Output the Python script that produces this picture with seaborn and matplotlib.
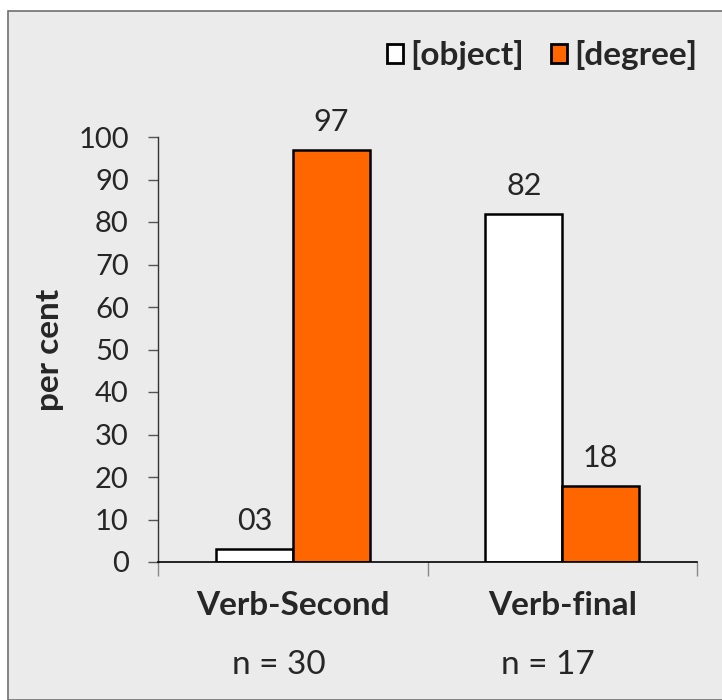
import pandas as pd
import matplotlib.pyplot as plt
import matplotlib.transforms as mtransforms
from matplotlib.patches import Rectangle
import seaborn as sns

# Data
categories = ["Verb-Second", "Verb-final"]
n_labels = ["n = 30", "n = 17"]
series = ["[object]", "[degree]"]
object_values = [3, 82]
degree_values = [97, 18]
value_labels = {"[object]": ["03", "82"], "[degree]": ["97", "18"]}

df = pd.DataFrame({
    "type": categories * 2,
    "series": [series[0]] * 2 + [series[1]] * 2,
    "value": object_values + degree_values,
})

sns.set_style("white")
plt.rcParams["font.family"] = ["Lato", "DejaVu Sans"]

fig = plt.figure(figsize=(7.22, 7.0), dpi=100, facecolor="white")

# Grey panel with border
fig.patches.append(Rectangle((8 / 722, 0), 1.0, 1 - 11 / 700,
                             transform=fig.transFigure, facecolor="#ebebeb",
                             edgecolor="#707070", linewidth=1.2, zorder=-10))

ax = fig.add_axes([158 / 722, 1 - 562 / 700, (697 - 158) / 722, (562 - 137) / 700])
ax.set_facecolor("none")
ax.set_zorder(5)

sns.barplot(
    data=df, x="type", y="value", hue="series", order=categories,
    hue_order=series, palette={"[object]": "white", "[degree]": "#ff6600"},
    width=0.57, edgecolor="black", linewidth=1.8, saturation=1, ax=ax,
)

for cont, name in zip(ax.containers, series):
    ax.bar_label(cont, labels=value_labels[name], padding=10, fontsize=22)

ax.set_xlim(-0.5, 1.5)
ax.set_ylim(0, 100)
ax.set_yticks(range(0, 101, 10))
ax.tick_params(axis="y", labelsize=21, length=7, width=1, color="#555555",
               direction="out", left=True, pad=14)
ax.set_xticks([-0.5, 0.5, 1.5], minor=True)
ax.tick_params(axis="x", which="minor", length=10, width=1, color="#888888",
               bottom=True)
ax.tick_params(axis="x", which="major", length=0, pad=21)
ax.set_xticklabels(categories, fontsize=24, fontweight="bold")

# sample sizes under each group, a little left of centre as in the original
trans = mtransforms.blended_transform_factory(ax.transData, fig.transFigure)
trans = trans + mtransforms.ScaledTranslation(-14 / 100, 0, fig.dpi_scale_trans)
for i, n in enumerate(n_labels):
    ax.text(i, 1 - 665 / 700, n, transform=trans, ha="center", va="center",
            fontsize=24)

ax.set_xlabel("")
ax.set_ylabel("per cent", fontsize=24, fontweight="bold", labelpad=10)

for side in ["top", "right"]:
    ax.spines[side].set_visible(False)
ax.spines["left"].set_color("#333333")
ax.spines["bottom"].set_color("black")
ax.spines["left"].set_linewidth(1)
ax.spines["bottom"].set_linewidth(1.2)

leg = ax.legend(loc="center right", bbox_to_anchor=(1.0, 1.193), ncol=2,
                frameon=False, prop={"size": 24, "weight": "bold"},
                handlelength=0.5, handleheight=0.5, handletextpad=0.2,
                columnspacing=0.8, borderaxespad=0, borderpad=0)
for h in leg.legend_handles:
    h.set_linewidth(2)

fig.savefig("out.png", dpi=100)
